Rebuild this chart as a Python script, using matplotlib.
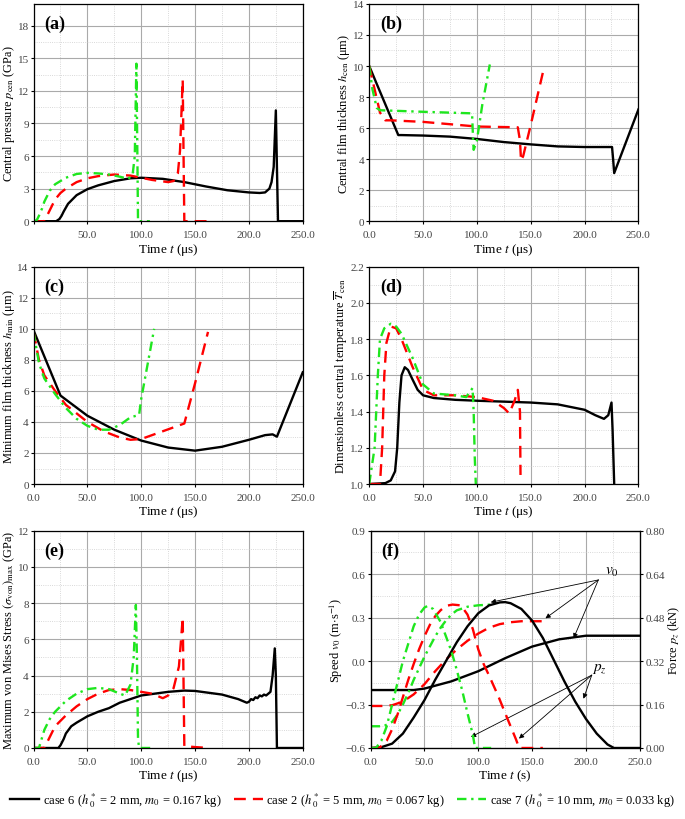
import numpy as np
import matplotlib
matplotlib.use("Agg")
import matplotlib.pyplot as plt
from matplotlib.lines import Line2D

plt.rcParams['font.family'] = ['Liberation Serif', 'DejaVu Serif']
plt.rcParams['mathtext.fontset'] = 'stix'

# ---- (a) central pressure (GPa) ----
a6_t = [0, 21, 24, 26, 28, 32, 40, 50, 60, 75, 90, 100, 120, 140, 160, 180, 200, 210, 215, 219, 221, 223, 225, 226, 227, 250]
a6_p = [0, 0, 0.2, 0.5, 0.9, 1.6, 2.4, 2.95, 3.3, 3.7, 3.95, 4.0, 3.9, 3.6, 3.2, 2.85, 2.65, 2.6, 2.65, 3.0, 3.6, 5.0, 10.2, 5.0, 0, 0]
a2_t = [0, 10, 13, 16, 20, 25, 30, 40, 50, 60, 75, 90, 100, 110, 125, 130, 134, 136, 138.5, 139.3, 140, 163]
a2_p = [0, 0, 0.6, 1.2, 2.0, 2.6, 3.0, 3.6, 3.95, 4.15, 4.3, 4.2, 4.0, 3.8, 3.6, 3.7, 4.4, 6.5, 13.0, 6.0, 0, 0]
a7_t = [0, 3, 5, 8, 10, 15, 20, 30, 40, 50, 60, 70, 80, 88, 92, 94, 95.5, 96.3, 97, 108]
a7_p = [0, 0.1, 0.5, 1.2, 1.8, 2.8, 3.4, 4.0, 4.35, 4.45, 4.4, 4.3, 4.1, 3.9, 4.3, 6.0, 14.5, 7.0, 0, 0]

# ---- (b) central film thickness (um) ----
b6_t = [0, 27, 30, 50, 75, 100, 125, 150, 175, 200, 225.5, 226.5, 227.5, 250]
b6_h = [10.0, 5.55, 5.55, 5.52, 5.45, 5.3, 5.1, 4.95, 4.82, 4.78, 4.78, 4.0, 3.1, 7.2]
b2_t = [0, 5, 10, 15, 20, 50, 100, 138, 140, 141, 143, 150, 162]
b2_h = [10.0, 8.5, 7.0, 6.5, 6.5, 6.4, 6.1, 6.05, 5.2, 3.9, 4.2, 6.2, 9.8]
b7_t = [0, 3, 7, 10, 50, 95.5, 96.5, 97, 100, 105, 112]
b7_h = [10.0, 8.5, 7.3, 7.15, 7.05, 6.95, 5.2, 4.6, 5.2, 7.5, 10.1]

# ---- (c) minimum film thickness (um) ----
c6_t = [0, 25, 50, 75, 100, 125, 150, 175, 200, 215, 222, 226, 250]
c6_h = [9.9, 5.7, 4.4, 3.5, 2.8, 2.35, 2.15, 2.4, 2.85, 3.15, 3.2, 3.05, 7.2]
c2_t = [0, 5, 10, 20, 30, 50, 65, 80, 90, 100, 120, 140, 150, 162]
c2_h = [9.8, 8.0, 7.0, 6.0, 5.1, 4.0, 3.4, 3.0, 2.85, 2.9, 3.4, 3.9, 6.5, 9.8]
c7_t = [0, 5, 10, 20, 30, 40, 50, 60, 70, 80, 90, 98, 100, 112]
c7_h = [9.8, 7.8, 6.8, 5.8, 4.9, 4.2, 3.75, 3.5, 3.5, 3.8, 4.3, 4.45, 5.5, 10.0]

# ---- (d) dimensionless central temperature ----
d6_t = [0, 15, 20, 24, 26, 28, 30, 33, 36, 40, 45, 50, 60, 80, 100, 125, 150, 175, 200, 210, 218, 222, 225, 226, 227.5]
d6_T = [1.0, 1.005, 1.02, 1.07, 1.2, 1.45, 1.6, 1.645, 1.63, 1.58, 1.52, 1.49, 1.475, 1.465, 1.46, 1.455, 1.45, 1.44, 1.41, 1.38, 1.36, 1.38, 1.45, 1.3, 1.0]
d2_t = [0, 10, 12, 14, 16, 20, 25, 30, 40, 50, 60, 80, 100, 115, 125, 130, 135, 138, 140, 140.5]
d2_T = [1.0, 1.0, 1.2, 1.6, 1.78, 1.87, 1.86, 1.8, 1.65, 1.52, 1.49, 1.49, 1.48, 1.46, 1.42, 1.39, 1.46, 1.52, 1.4, 1.05]
d7_t = [0, 5, 8, 10, 14, 20, 25, 30, 40, 50, 60, 80, 90, 96, 97, 98, 99]
d7_T = [1.0, 1.2, 1.6, 1.8, 1.86, 1.885, 1.87, 1.83, 1.7, 1.55, 1.5, 1.49, 1.48, 1.53, 1.4, 1.15, 1.0]

# ---- (e) maximum von Mises stress (GPa) ----
e6_t = [0, 23, 25, 28, 30, 35, 40, 50, 60, 70, 80, 90, 100, 125, 140, 150, 175, 190, 198, 200, 202, 204, 206, 208,
        210, 212, 214, 216, 218, 220, 222, 224, 225, 226, 250]
e6_s = [0, 0, 0.15, 0.5, 0.8, 1.2, 1.4, 1.75, 2.0, 2.2, 2.5, 2.7, 2.9, 3.1, 3.17, 3.15, 2.95, 2.7, 2.5, 2.55, 2.7, 2.65, 2.8, 2.75,
        2.9, 2.85, 2.95, 2.9, 3.0, 3.1, 4.0, 5.5, 4.0, 0, 0]
e2_t = [0, 10, 15, 20, 30, 40, 50, 60, 70, 80, 90, 100, 110, 120, 125, 130, 135, 137, 138.5, 139, 140, 150, 163]
e2_s = [0, 0, 0.6, 1.2, 1.8, 2.3, 2.7, 3.0, 3.2, 3.25, 3.2, 3.1, 3.0, 2.75, 2.9, 3.3, 4.5, 6.0, 7.2, 5.0, 0.1, 0.05, 0]
e7_t = [0, 5, 8, 10, 15, 20, 30, 40, 50, 60, 70, 80, 85, 90, 93, 95, 96, 97, 98, 112]
e7_s = [0, 0, 0.6, 1.0, 1.6, 2.0, 2.6, 3.0, 3.25, 3.32, 3.25, 3.0, 2.9, 3.5, 5.0, 7.9, 5.0, 0.5, 0, 0]

# ---- (f) speed v0 (m/s) and force pz (kN) ----
v6_t = [0, 40, 50, 75, 100, 125, 150, 175, 200, 250]
v6_v = [-0.2, -0.2, -0.19, -0.14, -0.07, 0.02, 0.1, 0.15, 0.175, 0.175]
f6_t = [0, 10, 20, 30, 40, 50, 60, 70, 80, 90, 100, 110, 120, 125, 130, 140, 150, 160, 170, 180, 190, 200, 210, 220, 226, 250]
f6_f = [0, 0.003, 0.016, 0.053, 0.112, 0.176, 0.251, 0.32, 0.389, 0.448, 0.496, 0.525, 0.536, 0.537, 0.533,
        0.512, 0.469, 0.405, 0.325, 0.245, 0.171, 0.107, 0.053, 0.013, 0, 0]
v2_t = [0, 10, 20, 30, 40, 50, 60, 70, 80, 90, 100, 110, 120, 130, 140, 162]
v2_v = [-0.31, -0.31, -0.305, -0.28, -0.23, -0.16, -0.07, 0.01, 0.08, 0.14, 0.19, 0.23, 0.255, 0.268, 0.275, 0.275]
f2_t = [0, 8, 15, 20, 25, 30, 35, 40, 45, 50, 55, 60, 65, 70, 76, 84, 90, 95, 100, 105, 110, 119, 125, 130, 135, 138, 160]
f2_f = [0, 0, 0.027, 0.069, 0.123, 0.187, 0.251, 0.309, 0.363, 0.411, 0.453, 0.485, 0.507, 0.523, 0.528, 0.525,
        0.491, 0.437, 0.363, 0.309, 0.267, 0.187, 0.128, 0.08, 0.032, 0, 0]
v7_t = [0, 12, 20, 25, 30, 35, 40, 45, 50, 55, 60, 65, 70, 75, 80, 90, 100, 112]
v7_v = [-0.45, -0.45, -0.42, -0.37, -0.3, -0.22, -0.13, -0.05, 0.03, 0.1, 0.17, 0.23, 0.28, 0.32, 0.35, 0.375, 0.385, 0.39]
f7_t = [0, 5, 10, 15, 20, 25, 30, 35, 40, 45, 50, 53, 58, 65, 70, 75, 80, 85, 90, 95, 97, 112]
f7_f = [0, 0, 0.027, 0.08, 0.16, 0.24, 0.32, 0.384, 0.448, 0.491, 0.517, 0.523, 0.512, 0.464, 0.411, 0.357,
        0.288, 0.213, 0.128, 0.048, 0, 0]

legend_labels = [r'case 6 ($h^*_{\ 0}$ = 2 mm, $m_0$ = 0.167 kg)',
                 r'case 2 ($h^*_{\ 0}$ = 5 mm, $m_0$ = 0.067 kg)',
                 r'case 7 ($h^*_{\ 0}$ = 10 mm, $m_0$ = 0.033 kg)']

BLACK = dict(color='black', lw=1.7, ls='-')
RED = dict(color='#ff0000', lw=1.7, ls=(0, (5, 3)))
GREEN = dict(color='#1ee61e', lw=1.7, ls=(0, (4, 2, 1, 2)))

LBL = 8.9
fig = plt.figure(figsize=(6.85, 8.2), dpi=100)

L, R, W, H = 0.049, 0.539, 0.393, 0.265
rows = [0.729, 0.4085, 0.0866]


def style(ax, yticks, ylim, fmt, xlabel='Time $t$ (μs)', show_x0=True):
    ax.set_xlim(0, 250)
    ax.set_ylim(*ylim)
    xt = [0, 50, 100, 150, 200, 250]
    ax.set_xticks(xt)
    ax.set_xticklabels([('%.1f' % v if (v > 0 or show_x0) else '') for v in xt])
    ax.set_xticks([25, 75, 125, 175, 225], minor=True)
    ax.set_yticks(yticks)
    ax.set_yticklabels([fmt % v for v in yticks])
    ax.set_yticks([(yticks[i] + yticks[i + 1]) / 2 for i in range(len(yticks) - 1)], minor=True)
    ax.grid(True, which='major', color='#aaaaaa', lw=0.8)
    ax.grid(True, which='minor', color='#cccccc', lw=0.6, ls=':')
    ax.tick_params(which='both', direction='out', labelsize=8, labelcolor='#444444', length=2.5, pad=1)
    ax.tick_params(axis='x', which='major', pad=4)
    ax.tick_params(which='minor', length=0)
    for s in ax.spines.values():
        s.set_linewidth(0.9)
    ax.set_xlabel(xlabel, fontsize=LBL + 0.6, labelpad=1)


def tag(ax, s):
    ax.text(0.04, 0.95, s, transform=ax.transAxes, fontsize=13, fontweight='bold', va='top')


# (a)
ax = fig.add_axes([L, rows[0], W, H])
ax.plot(a6_t, a6_p, **BLACK)
ax.plot(a2_t, a2_p, **RED)
ax.plot(a7_t, a7_p, **GREEN)
style(ax, [0, 3, 6, 9, 12, 15, 18], (0, 20), '%d', show_x0=False)
ax.set_ylabel(r'Central pressure $p_{\rm cen}$ (GPa)', fontsize=LBL, labelpad=0.5)
tag(ax, '(a)')

# (b)
ax = fig.add_axes([R, rows[0], W, H])
ax.plot(b6_t, b6_h, **BLACK)
ax.plot(b2_t, b2_h, **RED)
ax.plot(b7_t, b7_h, **GREEN)
style(ax, [0, 2, 4, 6, 8, 10, 12, 14], (0, 14), '%d')
ax.set_ylabel(r'Central film thickness $h_{\rm cen}$ (μm)', fontsize=LBL, labelpad=0.5)
tag(ax, '(b)')

# (c)
ax = fig.add_axes([L, rows[1], W, H])
ax.plot(c6_t, c6_h, **BLACK)
ax.plot(c2_t, c2_h, **RED)
ax.plot(c7_t, c7_h, **GREEN)
style(ax, [0, 2, 4, 6, 8, 10, 12, 14], (0, 14), '%d')
ax.set_ylabel(r'Minimum film thickness $h_{\rm min}$ (μm)', fontsize=LBL, labelpad=0.5)
tag(ax, '(c)')

# (d)
ax = fig.add_axes([R, rows[1], W, H])
ax.plot(d6_t, d6_T, **BLACK)
ax.plot(d2_t, d2_T, **RED)
ax.plot(d7_t, d7_T, **GREEN)
style(ax, [1.0, 1.2, 1.4, 1.6, 1.8, 2.0, 2.2], (1.0, 2.2), '%.1f')
ax.set_ylabel(r'Dimensionless central temperature $\overline{T}_{\rm cen}$', fontsize=LBL, labelpad=0.5)
tag(ax, '(d)')

# (e)
ax = fig.add_axes([L, rows[2], W, H])
ax.plot(e6_t, e6_s, **BLACK)
ax.plot(e2_t, e2_s, **RED)
ax.plot(e7_t, e7_s, **GREEN)
style(ax, [0, 2, 4, 6, 8, 10, 12], (0, 12), '%d')
ax.set_ylabel(r'Maximum von Mises Stress $(\sigma_{\rm von})_{\rm max}$ (GPa)', fontsize=LBL, labelpad=0.5)
tag(ax, '(e)')

# (f)
ax = fig.add_axes([R + 0.002, rows[2], W, H])
ax2 = ax.twinx()
ax.plot(v6_t, v6_v, **BLACK)
ax.plot(v2_t, v2_v, **RED)
ax.plot(v7_t, v7_v, **GREEN)
ax2.plot(f6_t, f6_f, **BLACK)
ax2.plot(f2_t, f2_f, **RED)
ax2.plot(f7_t, f7_f, **GREEN)
style(ax, [-0.6, -0.3, 0.0, 0.3, 0.6, 0.9], (-0.6, 0.9), '%.1f', xlabel='Time $t$ (s)')
ax.set_yticklabels(['\u22120.6', '\u22120.3', '0.0', '0.3', '0.6', '0.9'])
ax2.set_ylim(0, 0.8)
ry = [0, 0.16, 0.32, 0.48, 0.64, 0.8]
ax2.set_yticks(ry)
ax2.set_yticklabels(['%.2f' % v for v in ry])
ax2.tick_params(direction='out', labelsize=8, labelcolor='#444444', length=2.5, pad=1.5)
ax.set_ylabel(r'Speed $v_0$ (m$\cdot$s$^{-1}$)', fontsize=LBL, labelpad=0.5)
ax2.set_ylabel(r'Force $p_z$ (kN)', fontsize=LBL, labelpad=1)
tag(ax, '(f)')

arrow = dict(arrowstyle='-|>', color='black', lw=0.6, mutation_scale=7, shrinkA=0, shrinkB=0)
ax.text(218, 0.62, '$v_0$', fontsize=11, ha='left', va='center')
for xy in [(111.6, 0.406), (162.4, 0.295), (188.5, 0.157)]:
    ax.annotate('', xy=xy, xytext=(211.5, 0.56), arrowprops=arrow)
ax.text(206, -0.05, '$p_z$', fontsize=11, ha='left', va='center')
for xy in [(93.2, -0.524), (137.8, -0.535), (197.7, -0.26)]:
    ax.annotate('', xy=xy, xytext=(205.4, -0.097), arrowprops=arrow)

handles = [Line2D([], [], **BLACK), Line2D([], [], **RED), Line2D([], [], **GREEN)]
fig.legend(handles, legend_labels, loc='center', bbox_to_anchor=(0.5, 0.024), ncol=3, frameon=False,
           fontsize=9, handlelength=2.3, columnspacing=1.0, handletextpad=0.3)

fig.savefig('out.png', dpi=100)
